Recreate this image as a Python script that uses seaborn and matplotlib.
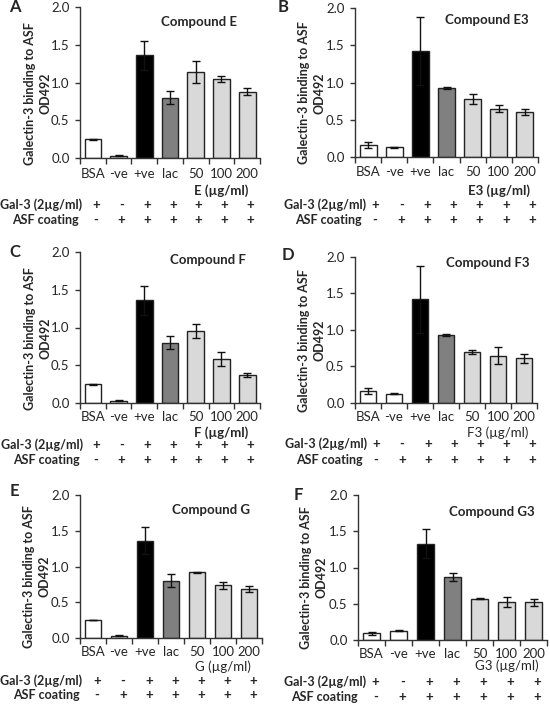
import numpy as np
import pandas as pd
import matplotlib
matplotlib.use("Agg")
import matplotlib.pyplot as plt
import seaborn as sns

# -------------------------
# Data
# -------------------------
categories = ['BSA', '-ve', '+ve', 'lac', '50', '100', '200']
gal3_row = ['+', '-', '+', '+', '+', '+', '+']
asf_row = ['-', '+', '+', '+', '+', '+', '+']
bar_colors = ['#ffffff', '#ffffff', '#000000', '#808080', '#d9d9d9', '#d9d9d9', '#d9d9d9']

panel_letters = ['A', 'B', 'C', 'D', 'E', 'F']
compounds = ['E', 'E3', 'F', 'F3', 'G', 'G3']

vals_A = [0.25, 0.03, 1.36, 0.80, 1.14, 1.05, 0.88]
err_A = [0.005, 0.005, 0.19, 0.09, 0.15, 0.04, 0.05]
vals_B = [0.16, 0.13, 1.42, 0.93, 0.78, 0.65, 0.61]
err_B = [0.04, 0.01, 0.46, 0.015, 0.07, 0.05, 0.04]
vals_C = [0.25, 0.03, 1.36, 0.80, 0.95, 0.58, 0.37]
err_C = [0.005, 0.005, 0.19, 0.09, 0.09, 0.09, 0.03]
vals_D = [0.16, 0.13, 1.42, 0.93, 0.70, 0.65, 0.61]
err_D = [0.04, 0.01, 0.46, 0.015, 0.03, 0.12, 0.06]
vals_E = [0.25, 0.03, 1.36, 0.80, 0.92, 0.74, 0.69]
err_E = [0.005, 0.005, 0.19, 0.09, 0.01, 0.05, 0.04]
vals_F = [0.09, 0.13, 1.33, 0.87, 0.57, 0.53, 0.52]
err_F = [0.015, 0.01, 0.20, 0.05, 0.005, 0.07, 0.05]

all_vals = [vals_A, vals_B, vals_C, vals_D, vals_E, vals_F]
all_errs = [err_A, err_B, err_C, err_D, err_E, err_F]

# -------------------------
# Layout (pixels in a 550x704 figure)
# -------------------------
W, H = 550, 704
# left, right, top, bottom of each axes
rects = [(80, 260, 7, 158), (355, 538, 8, 157),
         (80, 260, 252, 403), (355, 537, 257, 403),
         (80, 262, 495, 638), (358, 547, 495, 640)]
# offsets below the x axis: tick labels, unit label, Gal-3 row, ASF row
offsets = [(17, 33, 47, 62), (16, 34, 48, 63),
           (16, 30, 42, 57), (16, 30, 41, 57),
           (16, 29, 43, 57), (15, 26, 42, 57)]
sign_shift = [3, 7, 3, 8, 4, 4]
row_label_x = [(82, 79), (366, 362), (83, 80), (367, 363), (82, 80), (366, 358)]
title_pos = [(0.66, 0.90), (0.72, 0.92), (0.71, 0.95), (0.73, 0.96), (0.72, 0.895), (0.71, 0.88)]
letter_pos = [(15, 7), (283, 7), (15, 252), (288, 255), (14, 491), (298, 495)]
unit_bold = [True, True, True, False, False, False]

sns.set_style("ticks")
plt.rcParams['font.family'] = ['Lato', 'DejaVu Sans']
plt.rcParams['axes.linewidth'] = 1.0

fig = plt.figure(figsize=(W / 100, H / 100), dpi=100)
fs = 9.5
fs_row = 9
palette = dict(zip(categories, bar_colors))

for k in range(6):
    l, r, t, b = rects[k]
    ax = fig.add_axes([l / W, 1 - b / H, (r - l) / W, (b - t) / H])
    df = pd.DataFrame({'cat': categories, 'val': all_vals[k]})
    sns.barplot(data=df, x='cat', y='val', hue='cat', order=categories,
                hue_order=categories, palette=palette, legend=False,
                width=0.65, edgecolor='#222222', linewidth=1.0,
                errorbar=None, ax=ax)
    ax.errorbar(np.arange(len(categories)), all_vals[k], yerr=all_errs[k],
                fmt='none', ecolor='#111111', elinewidth=1.0, capsize=3,
                capthick=1.0, zorder=5)

    ax.set_xlim(-0.5, 6.5)
    ax.set_ylim(0, 2.0)
    ax.set_yticks([0, 0.5, 1.0, 1.5, 2.0])
    ax.set_yticklabels(['0.0', '0.5', '1.0', '1.5', '2.0'], fontsize=fs)
    sns.despine(ax=ax)
    for s in ['left', 'bottom']:
        ax.spines[s].set_color('#333333')
    ax.tick_params(axis='y', direction='out', length=3.5, width=1,
                   color='#333333', pad=4)

    t_off, u_off, g_off, a_off = offsets[k]
    ax.set_xticks(np.arange(len(categories)))
    ax.set_xticklabels(categories, fontsize=fs)
    ax.set_xticks(np.arange(-0.5, 7, 1), minor=True)
    ax.tick_params(axis='x', which='major', length=0, pad=(t_off - 7.5) * 0.72)
    ax.tick_params(axis='x', which='minor', direction='out', length=4,
                   width=1, color='#333333')
    ax.set_xlabel('')
    ax.set_ylabel('')

    ax.text(-0.235, 0.43, 'Galectin-3 binding to ASF\nOD492', transform=ax.transAxes,
            rotation=90, ha='center', va='center', fontsize=9,
            fontweight='bold', linespacing=1.35)
    ax.text(title_pos[k][0], title_pos[k][1], 'Compound ' + compounds[k],
            transform=ax.transAxes, ha='center', va='center', fontsize=fs,
            fontweight='bold')

    # unit label under the concentrations
    ax.annotate(compounds[k] + ' (µg/ml)', xy=(5, 0), xycoords=('data', 'axes fraction'),
                xytext=(0, -u_off), textcoords='offset pixels', ha='center',
                va='center', fontsize=fs,
                fontweight='bold' if unit_bold[k] else 'normal')

    # +/- rows
    for i in range(len(categories)):
        ax.annotate(gal3_row[i], xy=(i, 0), xycoords=('data', 'axes fraction'),
                    xytext=(sign_shift[k], -g_off), textcoords='offset pixels',
                    ha='center', va='center', fontsize=fs, fontweight='bold')
        ax.annotate(asf_row[i], xy=(i, 0), xycoords=('data', 'axes fraction'),
                    xytext=(sign_shift[k], -a_off), textcoords='offset pixels',
                    ha='center', va='center', fontsize=fs, fontweight='bold')

    gx, axx = row_label_x[k]
    fig.text(gx / W, 1 - (b + g_off) / H, 'Gal-3 (2µg/ml)', ha='right',
             va='center', fontsize=fs_row, fontweight='bold')
    fig.text(axx / W, 1 - (b + a_off) / H, 'ASF coating', ha='right',
             va='center', fontsize=fs_row, fontweight='bold')

    lx, ly = letter_pos[k]
    fig.text(lx / W, 1 - ly / H, panel_letters[k], ha='center', va='center',
             fontsize=12, fontweight='bold')

fig.savefig('out.png', dpi=100)
